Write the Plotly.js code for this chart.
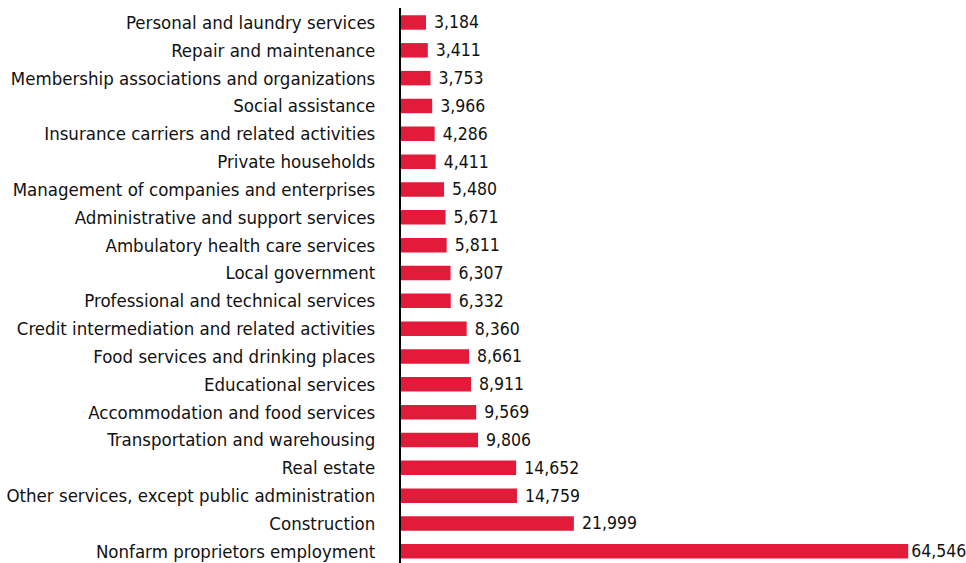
<!DOCTYPE html>
<html><head><meta charset="utf-8">
<script src="https://cdn.plot.ly/plotly-3.0.1.min.js"></script>
<style>html,body{margin:0;padding:0;background:#fff;}#chart{width:966px;height:563px;}</style>
</head><body><div id="chart"></div>
<script>
const categories = [
  "Personal and laundry services",
  "Repair and maintenance",
  "Membership associations and organizations",
  "Social assistance",
  "Insurance carriers and related activities",
  "Private households",
  "Management of companies and enterprises",
  "Administrative and support services",
  "Ambulatory health care services",
  "Local government",
  "Professional and technical services",
  "Credit intermediation and related activities",
  "Food services and drinking places",
  "Educational services",
  "Accommodation and food services",
  "Transportation and warehousing",
  "Real estate",
  "Other services, except public administration",
  "Construction",
  "Nonfarm proprietors employment"
];
const values = [3184, 3411, 3753, 3966, 4286, 4411, 5480, 5671, 5811, 6307, 6332, 8360, 8661, 8911, 9569, 9806, 14652, 14759, 21999, 64546];

const FONT = "'Liberation Sans Narrow', 'DejaVu Sans Condensed', 'Arial Narrow', sans-serif";
const maxV = Math.max(...values);

const trace = {
  type: 'bar',
  orientation: 'h',
  y: categories,
  x: values,
  width: 0.52,
  marker: {color: '#e31b3a'},
  text: values.map(v => (v === maxV ? '' : '\u00a0') + v.toLocaleString('en-US')),
  textposition: 'outside',
  constraintext: 'none',
  cliponaxis: false,
  textfont: {family: FONT, size: 17.5, color: '#111'},
  hoverinfo: 'none'
};

const layout = {
  width: 966, height: 563,
  margin: {l: 401, r: 0, t: 8, b: 0, pad: 0},
  paper_bgcolor: '#fff', plot_bgcolor: '#fff',
  showlegend: false,
  font: {family: FONT, size: 18.5, color: '#111'},
  xaxis: {range: [0, 71900], visible: false, showgrid: false, zeroline: false, fixedrange: true},
  yaxis: {
    type: 'category',
    range: [19.42, -0.52],
    showline: true, linecolor: '#000', linewidth: 2,
    showgrid: false, zeroline: false,
    ticks: 'outside', ticklen: 20, tickcolor: 'rgba(0,0,0,0)',
    tickfont: {family: FONT, size: 18.5, color: '#111'},
    fixedrange: true
  },
  bargap: 0.48
};

Plotly.newPlot('chart', [trace], layout, {displayModeBar: false, staticPlot: true});
</script></body></html>
